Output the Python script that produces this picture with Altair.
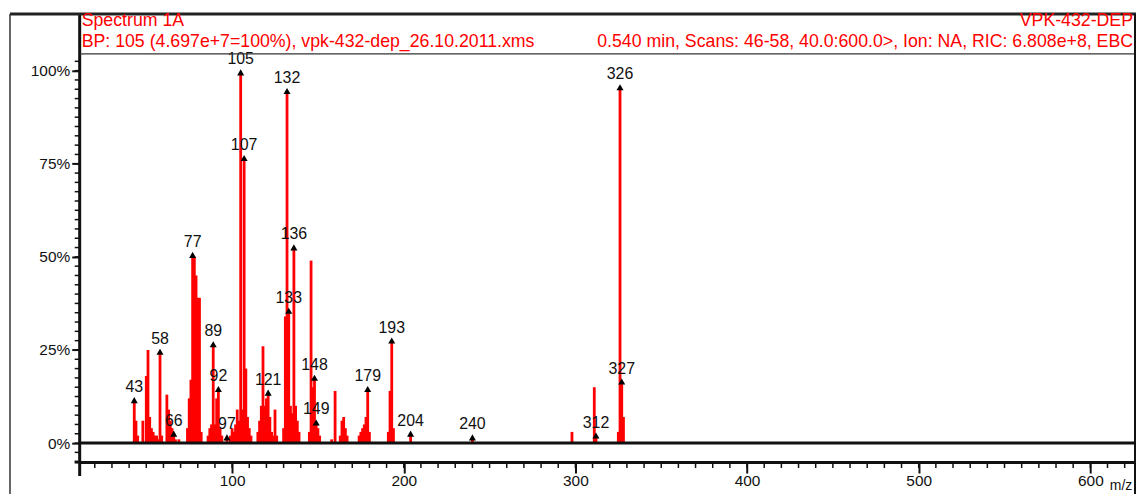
import altair as alt
import pandas as pd

# ---------------- data ----------------
mz = [43, 44, 45, 48, 50, 51, 52, 53, 54, 55, 56, 57, 58, 59,
      62, 63, 64, 65, 66, 67, 69, 74, 75, 76, 77, 78, 79, 80, 81, 82,
      86, 87, 88, 89, 90, 91, 92, 93, 94, 97, 99, 100, 101, 102, 103, 104,
      105, 106, 107, 108, 109, 110, 111, 115, 116, 117, 118, 119, 120, 121,
      122, 123, 124, 125, 126, 130, 131, 132, 133, 134, 135, 136, 137, 138, 139,
      145, 146, 147, 148, 149, 150, 151, 158, 160, 163, 164, 165, 166, 167,
      174, 175, 176, 177, 178, 179, 180, 191, 192, 193, 194, 204, 240,
      298, 311, 312, 325, 326, 327, 328]
intensity = [11, 6, 2, 6, 18, 25, 7, 4, 3, 2, 2, 1, 24, 2,
             13, 9, 6, 4, 2, 1, 1, 4, 12, 17, 50, 50, 45, 39, 39, 3,
             2, 4, 5, 26, 5, 12, 14, 4, 2, 1, 2, 4, 3, 5, 9, 6,
             99, 9, 76, 20, 7, 4, 2, 3, 6, 10, 26, 10, 12, 13,
             7, 3, 2, 9, 2, 4, 34, 94, 35, 10, 8, 52, 10, 6, 3,
             3, 49, 15, 17, 5, 4, 2, 1, 14, 2, 6, 7, 4, 2,
             2, 3, 4, 5, 7, 14, 3, 3, 14, 27, 4, 2, 1,
             3, 15, 1.5, 3, 95, 16, 7]

labelled_mz = [43, 58, 66, 77, 89, 92, 97, 105, 107, 121, 132, 133, 136,
               148, 149, 179, 193, 204, 240, 312, 326, 327]

header_left = ["Spectrum 1A",
               "BP: 105 (4.697e+7=100%), vpk-432-dep_26.10.2011.xms"]
header_right = ["VPK-432-DEP",
                "0.540 min, Scans: 46-58, 40.0:600.0>, Ion: NA, RIC: 6.808e+8, EBC"]

y_major = [0, 25, 50, 75, 100]
y_minor = [-5, -2.5, 0, 2.5, 5, 7.5, 10, 12.5, 15, 17.5, 20, 22.5, 25, 27.5, 30,
           32.5, 35, 37.5, 40, 42.5, 45, 47.5, 50, 52.5, 55, 57.5, 60, 62.5, 65,
           67.5, 70, 72.5, 75, 77.5, 80, 82.5, 85, 87.5, 90, 92.5, 95, 97.5, 100, 102.5]
x_minor = list(range(20, 630, 10))
x_major = [100, 200, 300, 400, 500, 600]

# ---------------- layout ----------------
W, H = 1061, 410
FONT = "Liberation Sans"
xs = alt.Scale(domain=[11.2, 626.6], nice=False, zero=False)
ys = alt.Scale(domain=[-5.1, 104.5], nice=False, zero=False)

df = pd.DataFrame({"mz": mz, "pct": intensity})
lookup = dict(zip(mz, intensity))
lab = pd.DataFrame({"mz": labelled_mz,
                    "pct": [lookup[m] for m in labelled_mz],
                    "txt": [str(m) for m in labelled_mz]})

one = pd.DataFrame({"a": [0]})

x_axis = alt.Axis(values=x_major, tickSize=11, tickWidth=2, tickColor="#111",
                  domainWidth=3, domainColor="#111", labelOverlap=False,
                  labelFont=FONT, labelFontSize=15.5, labelColor="#111",
                  labelPadding=1, grid=False, title=None)
y_axis = alt.Axis(values=y_major, tickSize=8, tickWidth=2, tickColor="#111",
                  domain=False, labelExpr="datum.value + '%'",
                  labelOverlap=False,
                  labelFont=FONT, labelFontSize=15.5, labelColor="#111",
                  labelPadding=2, grid=False, title=None)

bars = alt.Chart(df).mark_rule(color="#ff0000", strokeWidth=2.8).encode(
    x=alt.X("mz:Q", scale=xs, axis=x_axis),
    y=alt.Y("pct:Q", scale=ys, axis=y_axis),
    y2=alt.datum(0),
)

baseline = alt.Chart(pd.DataFrame({"pct": [0]})).mark_rule(
    color="#111", strokeWidth=3).encode(
    y=alt.Y("pct:Q", scale=ys), x=alt.value(0), x2=alt.value(W))

markers = alt.Chart(lab).mark_point(shape="triangle-up", filled=True, size=50,
                                    color="#000", opacity=1, yOffset=-2).encode(
    x=alt.X("mz:Q", scale=xs), y=alt.Y("pct:Q", scale=ys))

labels = alt.Chart(lab).mark_text(font=FONT, fontSize=16, color="#111",
                                  dy=-15, baseline="middle").encode(
    x=alt.X("mz:Q", scale=xs), y=alt.Y("pct:Q", scale=ys), text="txt:N")

yminor = alt.Chart(pd.DataFrame({"pct": y_minor})).mark_rule(
    color="#111", strokeWidth=1.5).encode(
    y=alt.Y("pct:Q", scale=ys), x=alt.value(-5), x2=alt.value(0))

xminor = alt.Chart(pd.DataFrame({"mz": x_minor})).mark_rule(
    color="#111", strokeWidth=1.5).encode(
    x=alt.X("mz:Q", scale=xs), y=alt.value(H), y2=alt.value(H + 6))

# frame / decorations
yline = alt.Chart(one).mark_rule(color="#111", strokeWidth=3).encode(
    x=alt.value(0), y=alt.value(-40), y2=alt.value(H + 14))
xline_ext = alt.Chart(one).mark_rule(color="#111", strokeWidth=3).encode(
    x=alt.value(-5), x2=alt.value(0), y=alt.value(H))
top_line = alt.Chart(one).mark_rule(color="#222", strokeWidth=3).encode(
    x=alt.value(-70), x2=alt.value(W), y=alt.value(-40))
sep_line = alt.Chart(one).mark_rule(color="#333", strokeWidth=1.5).encode(
    x=alt.value(0), x2=alt.value(W), y=alt.value(0))
left_border = alt.Chart(one).mark_rule(color="#333", strokeWidth=1.5).encode(
    x=alt.value(-70), y=alt.value(-40), y2=alt.value(H + 32))
right_border = alt.Chart(one).mark_rule(color="#111", strokeWidth=2).encode(
    x=alt.value(W - 1), y=alt.value(-40), y2=alt.value(H + 32))

HF = 17.8
hl1 = alt.Chart(one).mark_text(text=header_left[0], font=FONT, fontSize=HF,
                               color="#ff0000", align="left", baseline="middle").encode(
    x=alt.value(2), y=alt.value(-33))
hl2 = alt.Chart(one).mark_text(text=header_left[1], font=FONT, fontSize=HF,
                               color="#ff0000", align="left", baseline="middle").encode(
    x=alt.value(2), y=alt.value(-12))
hr1 = alt.Chart(one).mark_text(text=header_right[0], font=FONT, fontSize=HF,
                               color="#ff0000", align="right", baseline="middle").encode(
    x=alt.value(W - 3), y=alt.value(-33))
hr2 = alt.Chart(one).mark_text(text=header_right[1], font=FONT, fontSize=HF,
                               color="#ff0000", align="right", baseline="middle").encode(
    x=alt.value(W - 3), y=alt.value(-12))
mz_lab = alt.Chart(one).mark_text(text="m/z", font=FONT, fontSize=14,
                                  color="#111", align="center", baseline="middle").encode(
    x=alt.value(1046), y=alt.value(H + 24))

chart = alt.layer(
    bars, baseline, yminor, xminor, markers, labels,
    yline, xline_ext, top_line, sep_line, left_border, right_border,
    hl1, hl2, hr1, hr2, mz_lab,
).properties(
    width=W, height=H,
    autosize=alt.AutoSizeParams(type="none"),
    padding={"left": 72, "top": 45, "right": 0, "bottom": 33},
    background="white",
).configure_view(stroke=None)

chart.save("out.html", embed_options={"renderer": "svg", "actions": False})
